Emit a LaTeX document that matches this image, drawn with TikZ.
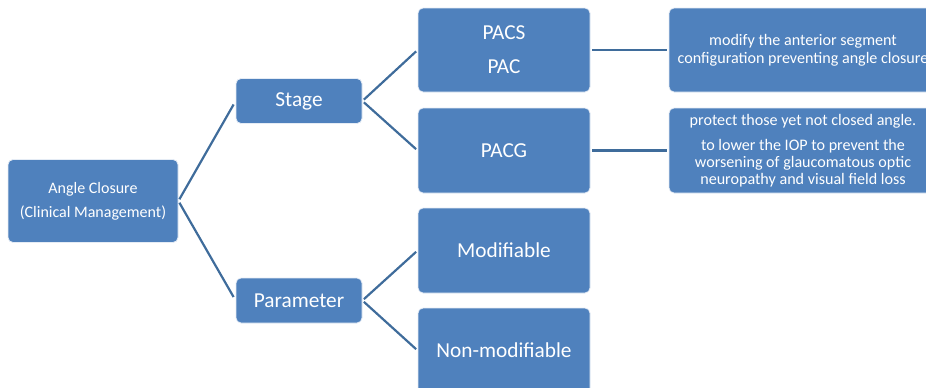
\documentclass[tikz,border=0pt]{standalone}
\usepackage{fontspec}
\setmainfont{Carlito}
\definecolor{boxblue}{HTML}{4F81BD}
\definecolor{linkblue}{HTML}{3F6C9B}
\begin{document}
\begin{tikzpicture}[x=1pt,y=-1pt,
  box/.style={rectangle, rounded corners=5pt, fill=boxblue, draw=white!85!boxblue, line width=0.8pt,
    text=white, align=center, inner sep=0pt},
  link/.style={draw=linkblue, line width=2.2pt}]
\clip (0,0) rectangle (926,388);
\node[box, minimum width=170pt, minimum height=83pt, font=\fontsize{16}{24}\selectfont] (root) at (93,201) {Angle Closure\\(Clinical Management)};
\node[box, minimum width=126pt, minimum height=45pt, font=\fontsize{21.3}{24}\selectfont] (stage) at (299,101) {Stage};
\node[box, minimum width=126pt, minimum height=45pt, font=\fontsize{21.3}{24}\selectfont] (param) at (299,300.5) {Parameter};
\node[box, minimum width=172pt, minimum height=84pt, font=\fontsize{21.3}{34}\selectfont] (pacs) at (504,50) {PACS\\PAC};
\node[box, minimum width=172pt, minimum height=85pt, font=\fontsize{21.3}{24}\selectfont] (pacg) at (504,150.5) {PACG};
\node[box, minimum width=172pt, minimum height=85pt, font=\fontsize{21.3}{24}\selectfont] (modi) at (504,250.5) {Modifiable};
\node[box, minimum width=172pt, minimum height=85pt, font=\fontsize{21.3}{24}\selectfont] (nonmod) at (504,350.5) {Non-modifiable};
\node[box, minimum width=268pt, minimum height=84pt, font=\fontsize{16.1}{18}\selectfont] (r1) at (803,50) {modify the anterior segment\\configuration preventing angle closure};
\node[box, minimum width=268pt, minimum height=85pt, font=\fontsize{16.1}{17}\selectfont] (r2) at (803,150.5) {protect those yet not closed angle.\\[8pt]to lower the IOP to prevent the\\worsening of glaucomatous optic\\neuropathy and visual field loss};
\draw[link, shorten <=2pt, shorten >=4pt] (root.east) -- (stage.west);
\draw[link, shorten <=2pt, shorten >=4pt] (root.east) -- (param.west);
\draw[link, shorten <=2pt, shorten >=2pt] (stage.east) -- (pacs.west);
\draw[link, shorten <=2pt, shorten >=2pt] (stage.east) -- (pacg.west);
\draw[link, shorten <=2pt, shorten >=2pt] (param.east) -- (modi.west);
\draw[link, shorten <=2pt, shorten >=2pt] (param.east) -- (nonmod.west);
\draw[link, shorten <=2pt, shorten >=2pt] (pacs.east) -- (r1.west);
\draw[link, shorten <=2pt, shorten >=2pt] (pacg.east) -- (r2.west);
\end{tikzpicture}
\end{document}
